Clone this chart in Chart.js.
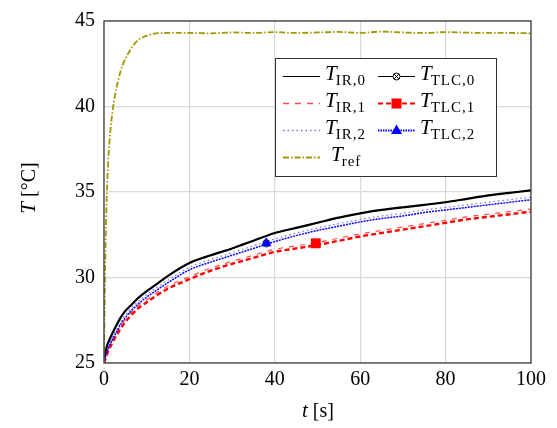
<!DOCTYPE html>
<html>
<head>
<meta charset="utf-8">
<script src="https://cdn.jsdelivr.net/npm/chart.js@4.4.1/dist/chart.umd.min.js"></script>
<style>
  html, body { margin: 0; padding: 0; background: #fff; }
  canvas { display: block; }
</style>
</head>
<body>
<canvas id="temp-chart" width="557" height="428" style="width:557px;height:428px"></canvas>
<script>
// time grid (s) for the IR / TLC curves
const tGrid = [0, 0.5, 1, 2, 3, 4, 5, 6, 8, 10, 12, 15, 20, 25, 30, 35, 40, 45, 50, 55, 60, 65, 70, 75, 80, 85, 90, 95, 100];
const irZero  = [25, 25.8, 26.2, 26.75, 27.25, 27.7, 28.05, 28.3, 28.8, 29.2, 29.55, 30.1, 30.85, 31.3, 31.7, 32.15, 32.6, 32.9, 33.2, 33.5, 33.75, 33.95, 34.1, 34.25, 34.4, 34.6, 34.8, 34.95, 35.1];
const irOne   = [25, 25.5, 25.85, 26.35, 26.8, 27.2, 27.55, 27.85, 28.35, 28.7, 29.05, 29.5, 30.05, 30.55, 30.95, 31.3, 31.65, 31.85, 32.05, 32.3, 32.55, 32.75, 32.95, 33.15, 33.35, 33.55, 33.7, 33.85, 34.0];
const irTwo   = [25, 25.65, 26.0, 26.55, 27.0, 27.45, 27.8, 28.1, 28.6, 29.0, 29.35, 29.85, 30.6, 31.05, 31.45, 31.85, 32.25, 32.6, 32.9, 33.15, 33.4, 33.6, 33.75, 33.95, 34.1, 34.25, 34.4, 34.55, 34.7];
const tlcZero = [25, 25.8, 26.2, 26.75, 27.25, 27.7, 28.05, 28.3, 28.8, 29.2, 29.55, 30.1, 30.85, 31.3, 31.7, 32.15, 32.6, 32.9, 33.2, 33.5, 33.75, 33.95, 34.1, 34.25, 34.4, 34.6, 34.8, 34.95, 35.1];
const tlcOne  = [25, 25.35, 25.7, 26.2, 26.65, 27.05, 27.4, 27.7, 28.2, 28.55, 28.9, 29.35, 29.9, 30.4, 30.8, 31.15, 31.5, 31.7, 31.9, 32.15, 32.4, 32.6, 32.8, 33.0, 33.2, 33.4, 33.55, 33.7, 33.85];
const tlcTwo  = [25, 25.5, 25.85, 26.4, 26.85, 27.3, 27.65, 27.95, 28.45, 28.85, 29.2, 29.7, 30.45, 30.9, 31.3, 31.7, 32.1, 32.45, 32.75, 33.0, 33.25, 33.45, 33.6, 33.8, 33.95, 34.1, 34.25, 34.4, 34.55];

// reference temperature
const tRef   = [0, 0.1, 0.3, 0.5, 0.8, 1.1, 1.5, 2, 2.6, 3.4, 4.4, 5.9, 7.6, 9.6, 11.5, 15, 20, 25, 30, 35, 40, 45, 50, 55, 60, 65, 70, 75, 80, 85, 90, 95, 100];
const refVal = [25, 27.5, 31, 33.5, 35.8, 37.3, 38.6, 39.7, 40.7, 41.6, 42.45, 43.2, 43.8, 44.1, 44.25, 44.3, 44.3, 44.28, 44.33, 44.3, 44.35, 44.3, 44.33, 44.36, 44.3, 44.38, 44.33, 44.3, 44.35, 44.32, 44.3, 44.3, 44.28];

// single marks on the TLC curves
const markTime = [38, 49.6, 38];
const markTemp = [32.0, 32.0, 32.0];

const xTicks = [0, 20, 40, 60, 80, 100];
const yTicks = [25, 30, 35, 40, 45];

const SERIF = '"Liberation Serif", "DejaVu Serif", serif';

function pts(xs, ys) {
  return xs.map((x, i) => ({ x, y: ys[i] }));
}

// circle with a cross, used as the TLC,0 mark
function circleCross(size) {
  const c = document.createElement('canvas');
  c.width = size; c.height = size;
  const g = c.getContext('2d');
  const r = size / 2 - 1;
  g.fillStyle = '#fff';
  g.strokeStyle = '#000';
  g.lineWidth = 1;
  g.beginPath(); g.arc(size / 2, size / 2, r, 0, Math.PI * 2); g.fill(); g.stroke();
  const d = r * 0.7;
  g.beginPath();
  g.moveTo(size / 2 - d, size / 2 - d); g.lineTo(size / 2 + d, size / 2 + d);
  g.moveTo(size / 2 + d, size / 2 - d); g.lineTo(size / 2 - d, size / 2 + d);
  g.stroke();
  return c;
}
const crossMark = circleCross(9);

function drawT(ctx, x, y, sub) {
  ctx.font = 'italic 21px ' + SERIF;
  ctx.fillText('T', x, y + 3);
  const w = ctx.measureText('T').width;
  ctx.font = '15px ' + SERIF;
  ctx.letterSpacing = '1px';
  ctx.fillText(sub, x + w - 1, y + 8);
  ctx.letterSpacing = '0px';
}

function legendLine(ctx, x0, x1, y, color, width, dash) {
  ctx.save();
  ctx.strokeStyle = color;
  ctx.lineWidth = width;
  ctx.setLineDash(dash);
  ctx.beginPath(); ctx.moveTo(x0, y); ctx.lineTo(x1, y); ctx.stroke();
  ctx.restore();
}

const overlay = {
  id: 'overlay',
  afterDraw(chart) {
    const { ctx, chartArea: a } = chart;
    ctx.save();
    // frame
    ctx.strokeStyle = '#404040';
    ctx.lineWidth = 1.3;
    ctx.strokeRect(a.left, a.top, a.right - a.left, a.bottom - a.top);

    // axis titles
    ctx.fillStyle = '#000';
    ctx.textBaseline = 'alphabetic';
    ctx.font = 'italic 21px ' + SERIF;
    const tw = ctx.measureText('t').width;
    ctx.font = '20px ' + SERIF;
    const sw = ctx.measureText(' [s]').width;
    let x = 318 - (tw + sw) / 2;
    ctx.font = 'italic 21px ' + SERIF;
    ctx.fillText('t', x, 417);
    ctx.font = '20px ' + SERIF;
    ctx.fillText(' [s]', x + tw, 417);

    ctx.save();
    ctx.translate(35, 188);
    ctx.rotate(-Math.PI / 2);
    ctx.font = 'italic 21px ' + SERIF;
    const Tw = ctx.measureText('T').width;
    ctx.font = '20px ' + SERIF;
    const cw = ctx.measureText(' [°C]').width;
    x = -(Tw + cw) / 2;
    ctx.font = 'italic 21px ' + SERIF;
    ctx.fillText('T', x, 0);
    ctx.font = '20px ' + SERIF;
    ctx.fillText(' [°C]', x + Tw, 0);
    ctx.restore();

    // legend box
    const bx = 275, by = 58, bw = 221, bh = 118;
    ctx.fillStyle = '#fff';
    ctx.fillRect(bx, by, bw, bh);
    ctx.strokeStyle = '#333';
    ctx.lineWidth = 1;
    ctx.strokeRect(bx + 0.5, by + 0.5, bw, bh);

    const rows = [76.5, 103.5, 130.5, 157.5];
    legendLine(ctx, 283, 320, rows[0], '#000', 1.2, []);
    legendLine(ctx, 283, 320, rows[1], '#ff4d4d', 1.4, [6, 6]);
    legendLine(ctx, 283, 320, rows[2], '#6f6fff', 1.4, [1.5, 3]);
    legendLine(ctx, 283, 320, rows[3], '#a09800', 1.8, [6, 2, 1.5, 2]);
    legendLine(ctx, 378, 415, rows[0], '#000', 1.2, []);
    legendLine(ctx, 378, 415, rows[1], '#ff0000', 2, [5, 3]);
    legendLine(ctx, 378, 415, rows[2], '#0000ff', 1.8, [1.5, 1]);

    ctx.drawImage(crossMark, 396.5 - 4.5, rows[0] - 4.5);
    ctx.fillStyle = '#ff0000';
    ctx.fillRect(396.5 - 5, rows[1] - 5, 10, 10);
    ctx.fillStyle = '#0000ff';
    ctx.beginPath();
    ctx.moveTo(396.5, rows[2] - 6);
    ctx.lineTo(396.5 + 5.5, rows[2] + 3.5);
    ctx.lineTo(396.5 - 5.5, rows[2] + 3.5);
    ctx.closePath(); ctx.fill();

    ctx.fillStyle = '#000';
    drawT(ctx, 325, rows[0], 'IR,0');
    drawT(ctx, 325, rows[1], 'IR,1');
    drawT(ctx, 325, rows[2], 'IR,2');
    drawT(ctx, 331, rows[3], 'ref');
    drawT(ctx, 420, rows[0], 'TLC,0');
    drawT(ctx, 420, rows[1], 'TLC,1');
    drawT(ctx, 420, rows[2], 'TLC,2');
    ctx.restore();
  }
};

const lineBase = { pointRadius: 0, fill: false, tension: 0.3, cubicInterpolationMode: 'monotone' };

new Chart(document.getElementById('temp-chart'), {
  type: 'line',
  data: {
    datasets: [
      { ...lineBase, label: 'T_IR,0', data: pts(tGrid, irZero), borderColor: '#000', borderWidth: 2.2, order: 6 },
      { ...lineBase, label: 'T_IR,1', data: pts(tGrid, irOne), borderColor: '#ff4d4d', borderWidth: 1.2, borderDash: [5, 6], order: 5 },
      { ...lineBase, label: 'T_IR,2', data: pts(tGrid, irTwo), borderColor: '#6f6fff', borderWidth: 1.2, borderDash: [1.5, 3], order: 4 },
      { ...lineBase, label: 'T_TLC,0', data: pts(tGrid, tlcZero), borderColor: '#000', borderWidth: 1, order: 3 },
      { ...lineBase, label: 'T_TLC,1', data: pts(tGrid, tlcOne), borderColor: '#ff0000', borderWidth: 2.4, borderDash: [5, 3], order: 2 },
      { ...lineBase, label: 'T_TLC,2', data: pts(tGrid, tlcTwo), borderColor: '#0000ff', borderWidth: 1.5, borderDash: [2, 1], order: 1 },
      { ...lineBase, label: 'T_ref', data: pts(tRef, refVal), borderColor: '#a09800', borderWidth: 1.8, borderDash: [6, 2, 1.5, 2], order: 0 },
      { label: 'mark TLC,0', data: [{ x: markTime[0], y: markTemp[0] }], showLine: false, pointStyle: crossMark, pointRadius: 4.5, order: -1 },
      { label: 'mark TLC,1', data: [{ x: markTime[1], y: markTemp[1] }], showLine: false, pointStyle: 'rect', pointRadius: 7, backgroundColor: '#ff0000', borderColor: '#ff0000', borderWidth: 0, order: -2 },
      { label: 'mark TLC,2', data: [{ x: markTime[2], y: markTemp[2] }], showLine: false, pointStyle: 'triangle', pointRadius: 6, backgroundColor: '#0000ff', borderColor: '#0000ff', borderWidth: 0, order: -3 },
    ],
  },
  options: {
    responsive: false,
    animation: false,
    layout: { padding: { top: 13, right: 26, left: 0, bottom: 0 } },
    plugins: { legend: { display: false }, tooltip: { enabled: false } },
    scales: {
      x: {
        type: 'linear', min: 0, max: 100,
        afterBuildTicks: s => { s.ticks = xTicks.map(v => ({ value: v })); },
        afterFit: s => { s.height = 65; },
        ticks: { color: '#000', font: { family: SERIF, size: 20 }, padding: 5, maxRotation: 0 },
        grid: { color: '#d9d9d9', lineWidth: 1.2, drawTicks: false },
        border: { display: false },
      },
      y: {
        type: 'linear', min: 25, max: 45,
        afterBuildTicks: s => { s.ticks = yTicks.map(v => ({ value: v })); },
        afterFit: s => { s.width = 104; },
        ticks: { color: '#000', font: { family: SERIF, size: 20 }, padding: 9 },
        grid: { color: '#d9d9d9', lineWidth: 1.2, drawTicks: false },
        border: { display: false },
      },
    },
  },
  plugins: [overlay],
});
</script>
</body>
</html>
